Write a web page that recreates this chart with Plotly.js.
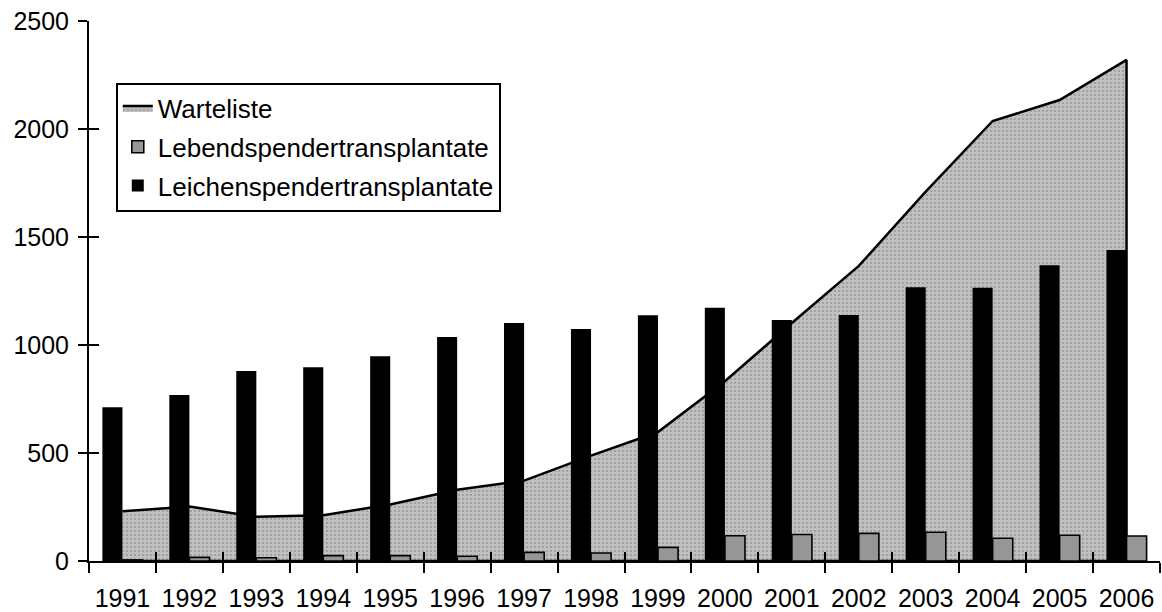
<!DOCTYPE html>
<html>
<head>
<meta charset="utf-8">
<script src="https://cdn.plot.ly/plotly-3.0.1.min.js"></script>
<style>html,body{margin:0;padding:0;background:#fff;}#chart{width:1162px;height:612px;}</style>
</head>
<body>
<div id="chart"></div>
<script>
var years = ['1991','1992','1993','1994','1995','1996','1997','1998','1999','2000','2001','2002','2003','2004','2005','2006'];
var warteliste = [230, 252, 205, 212, 262, 330, 372, 488, 597, 832, 1102, 1366, 1710, 2037, 2134, 2320];
var lebendspender = [5, 17, 15, 25, 25, 22, 40, 37, 63, 117, 123, 128, 133, 105, 119, 116];
var leichenspender = [712, 769, 880, 897, 948, 1037, 1102, 1074, 1138, 1173, 1116, 1139, 1267, 1265, 1369, 1440];
var yTicks = [0, 500, 1000, 1500, 2000, 2500];

var font = 'Liberation Sans, Arial, sans-serif';

// closed polygon for the waiting-list area (built from the data arrays)
var areaX = years.concat([years[years.length - 1], years[0]]);
var areaY = warteliste.concat([0, 0]);

var traces = [
  {
    type: 'scatter', mode: 'lines', name: 'Warteliste',
    x: areaX, y: areaY, xaxis: 'x', yaxis: 'y',
    fill: 'toself', fillcolor: '#c0c0c0',
    fillpattern: {shape: '.', bgcolor: '#c0c0c0', fgcolor: '#666666', size: 4, solidity: 0.08},
    line: {color: '#000', width: 2.5},
    legendrank: 1, legendgroup: 'a', hoverinfo: 'skip'
  },
  {
    type: 'bar', name: 'Leichenspendertransplantate',
    x: years, y: leichenspender, xaxis: 'x2', yaxis: 'y2',
    marker: {color: '#000000', line: {color: '#000', width: 0}},
    legendrank: 3, legendgroup: 'c'
  },
  {
    type: 'bar', name: 'Lebendspendertransplantate',
    x: years, y: lebendspender, xaxis: 'x2', yaxis: 'y2',
    marker: {color: '#969696', line: {color: '#000', width: 1.6}},
    legendrank: 2, legendgroup: 'b'
  }
];

var layout = {
  width: 1162, height: 612,
  margin: {l: 89, r: 2, t: 21, b: 51},
  paper_bgcolor: '#fff', plot_bgcolor: 'rgba(0,0,0,0)',
  font: {family: font, color: '#000', size: 25},
  barmode: 'group', bargap: 0.4, bargroupgap: 0,
  showlegend: true,
  legend: {
    x: 0.025, y: 0.886, xanchor: 'left', yanchor: 'top',
    bgcolor: '#fff', bordercolor: '#000', borderwidth: 2,
    font: {family: font, size: 26, color: '#000'},
    traceorder: 'grouped', tracegroupgap: 2
  },
  xaxis: {
    type: 'category', categoryorder: 'array', categoryarray: years,
    range: [-0.5, years.length - 0.5],
    showline: true, linecolor: '#000', linewidth: 2,
    ticks: 'outside', ticklen: 10, tickwidth: 2, tickcolor: '#000',
    tickson: 'boundaries', showgrid: false, zeroline: false,
    tickangle: 0,
    tickfont: {family: font, size: 25, color: '#000'},
    ticklabelstandoff: 14, fixedrange: true
  },
  yaxis: {
    range: [0, 2500], tickvals: yTicks, ticktext: yTicks.map(String),
    showline: true, linecolor: '#000', linewidth: 2,
    ticks: 'outside', ticklen: 9, tickwidth: 2, tickcolor: '#000',
    showgrid: false, zeroline: false,
    tickfont: {family: font, size: 25, color: '#000'},
    ticklabelstandoff: 4, fixedrange: true
  },
  xaxis2: {
    type: 'category', categoryorder: 'array', categoryarray: years,
    overlaying: 'x', anchor: 'y2',
    range: [-0.5, years.length - 0.5],
    showline: false, ticks: 'inside', ticklen: 9, tickwidth: 2, tickcolor: '#000',
    tickson: 'boundaries', showgrid: false, zeroline: false,
    showticklabels: false, fixedrange: true
  },
  yaxis2: {
    overlaying: 'y', anchor: 'x2', side: 'left',
    range: [0, 2500], tickvals: yTicks,
    showline: false, ticks: 'inside', ticklen: 10, tickwidth: 2, tickcolor: '#000',
    showgrid: false, zeroline: false, showticklabels: false, fixedrange: true
  }
};

Plotly.newPlot('chart', traces, layout, {displayModeBar: false, staticPlot: true});
</script>
</body>
</html>
